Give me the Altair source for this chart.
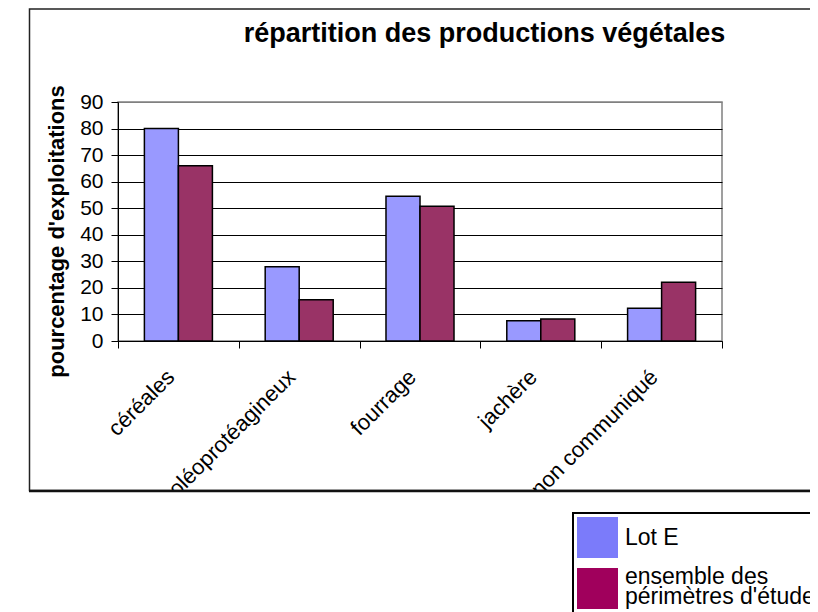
import altair as alt
import pandas as pd

categories = ["céréales", "oléoprotéagineux", "fourrage", "jachère", "non communiqué"]
series = ["Lot E", "ensemble des périmètres d'étude"]
lot_e = [80, 28, 54.5, 7.6, 12.3]
ensemble = [66, 15.5, 50.7, 8.3, 22.1]
bar_colors = ["#9999FF", "#993366"]
legend_colors = ["#7B7BFA", "#A0005C"]
y_ticks = list(range(0, 100, 10))
title_text = "répartition des productions végétales"
y_title = "pourcentage d'exploitations"

rows = []
for i, c in enumerate(categories):
    rows.append({"categorie": c, "serie": series[0], "valeur": lot_e[i]})
    rows.append({"categorie": c, "serie": series[1], "valeur": ensemble[i]})
df = pd.DataFrame(rows)
one = pd.DataFrame({"k": [0]})

FONT = "Liberation Sans"

bars = alt.Chart(df).mark_bar(stroke="black", strokeWidth=1.5).encode(
    x=alt.X(
        "categorie:N",
        sort=categories,
        scale=alt.Scale(paddingInner=0, paddingOuter=0),
        axis=alt.Axis(
            title=None,
            tickBand="extent",
            tickSize=7,
            tickColor="black",
            domainColor="black",
            labelAngle=315,
            labelAlign="right",
            labelBaseline="alphabetic",
            labelFontSize=22,
            labelFont=FONT,
            labelColor="black",
            labelPadding=30,
            labelOffset=-3,
            labelOverlap=False,
            labelLimit=500,
            labelFlush=False,
            grid=False,
            zindex=0,
        ),
    ),
    xOffset=alt.XOffset(
        "serie:N", sort=series, scale=alt.Scale(paddingInner=0, paddingOuter=0.776)
    ),
    y=alt.Y(
        "valeur:Q",
        scale=alt.Scale(domain=[0, 90], nice=False),
        axis=alt.Axis(
            values=y_ticks,
            title=y_title,
            titleFont=FONT,
            titleFontSize=22,
            titleFontWeight="bold",
            titleColor="black",
            titleX=-55,
            titleY=129,
            titleAngle=270,
            titleAlign="center",
            titleBaseline="alphabetic",
            labelFont=FONT,
            labelFontSize=21,
            labelColor="black",
            labelPadding=8,
            tickSize=7,
            tickColor="black",
            domainColor="black",
            grid=True,
            gridColor=alt.condition("datum.value == 90", alt.value("#808080"), alt.value("black")),
            gridWidth=1,
            labelOverlap=False,
            zindex=0,
        ),
    ),
    color=alt.Color(
        "serie:N", sort=series, scale=alt.Scale(domain=series, range=bar_colors), legend=None
    ),
)

# legend entry 1 (Lot E)
legend_a = alt.Chart(df).transform_filter("false").mark_square().encode(
    color=alt.Color(
        "serie:N",
        scale=alt.Scale(domain=[series[0]], range=[legend_colors[0]]),
        legend=alt.Legend(
            orient="none",
            legendX=459,
            legendY=415,
            title=None,
            labelBaseline="middle",
        ),
    )
)

# legend entry 2 (two-line label)
legend_b = alt.Chart(df).transform_filter("false").mark_square().encode(
    color=alt.Color(
        "serie:N",
        scale=alt.Scale(domain=[series[1]], range=[legend_colors[1]]),
        legend=alt.Legend(
            orient="none",
            legendX=459,
            legendY=466,
            title=None,
            labelBaseline="bottom",
            labelExpr="[slice(datum.label, 0, 12), slice(datum.label, 13)]",
        ),
    )
)

title = alt.Chart(one).mark_text(
    font=FONT, fontSize=27, fontWeight="bold", align="center", baseline="alphabetic", color="black"
).encode(x=alt.value(366.5), y=alt.value(-60), text=alt.value(title_text))

cover = alt.Chart(one).mark_rect(fill="white").encode(
    x=alt.value(-120), x2=alt.value(720), y=alt.value(389.5), y2=alt.value(520)
)

frame = alt.Chart(one).mark_rect(fillOpacity=0, stroke="#222222", strokeWidth=1.5).encode(
    x=alt.value(-88.5), x2=alt.value(720), y=alt.value(-93), y2=alt.value(388.5)
)

frame_bottom = alt.Chart(one).mark_rule(color="#111111", strokeWidth=2.5).encode(
    x=alt.value(-89), x2=alt.value(720), y=alt.value(389)
)

legend_box = alt.Chart(one).mark_rect(fill="white", stroke="black", strokeWidth=2).encode(
    x=alt.value(455), x2=alt.value(740), y=alt.value(411), y2=alt.value(540)
)

chart = (
    alt.layer(bars, cover, frame, frame_bottom, legend_box, title, legend_a, legend_b)
    .resolve_scale(color="independent")
    .properties(
        width=604,
        height=239,
        autosize="none",
        padding={"left": 110, "top": 94, "right": 88, "bottom": 271},
    )
    .configure(style={"guide-label": {"lineHeight": 20}})
    .configure_view(fill="#C0C0C0", stroke="#808080", strokeWidth=1.5)
    .configure_legend(
        symbolType="square",
        symbolSize=1681,
        symbolStrokeWidth=0,
        symbolOpacity=1,
        labelFont=FONT,
        labelFontSize=23,
        labelColor="black",
        labelOffset=7,
        labelLimit=600,
        padding=0,
    )
)

chart.save("out.html", embed_options={"renderer": "svg", "actions": False})
